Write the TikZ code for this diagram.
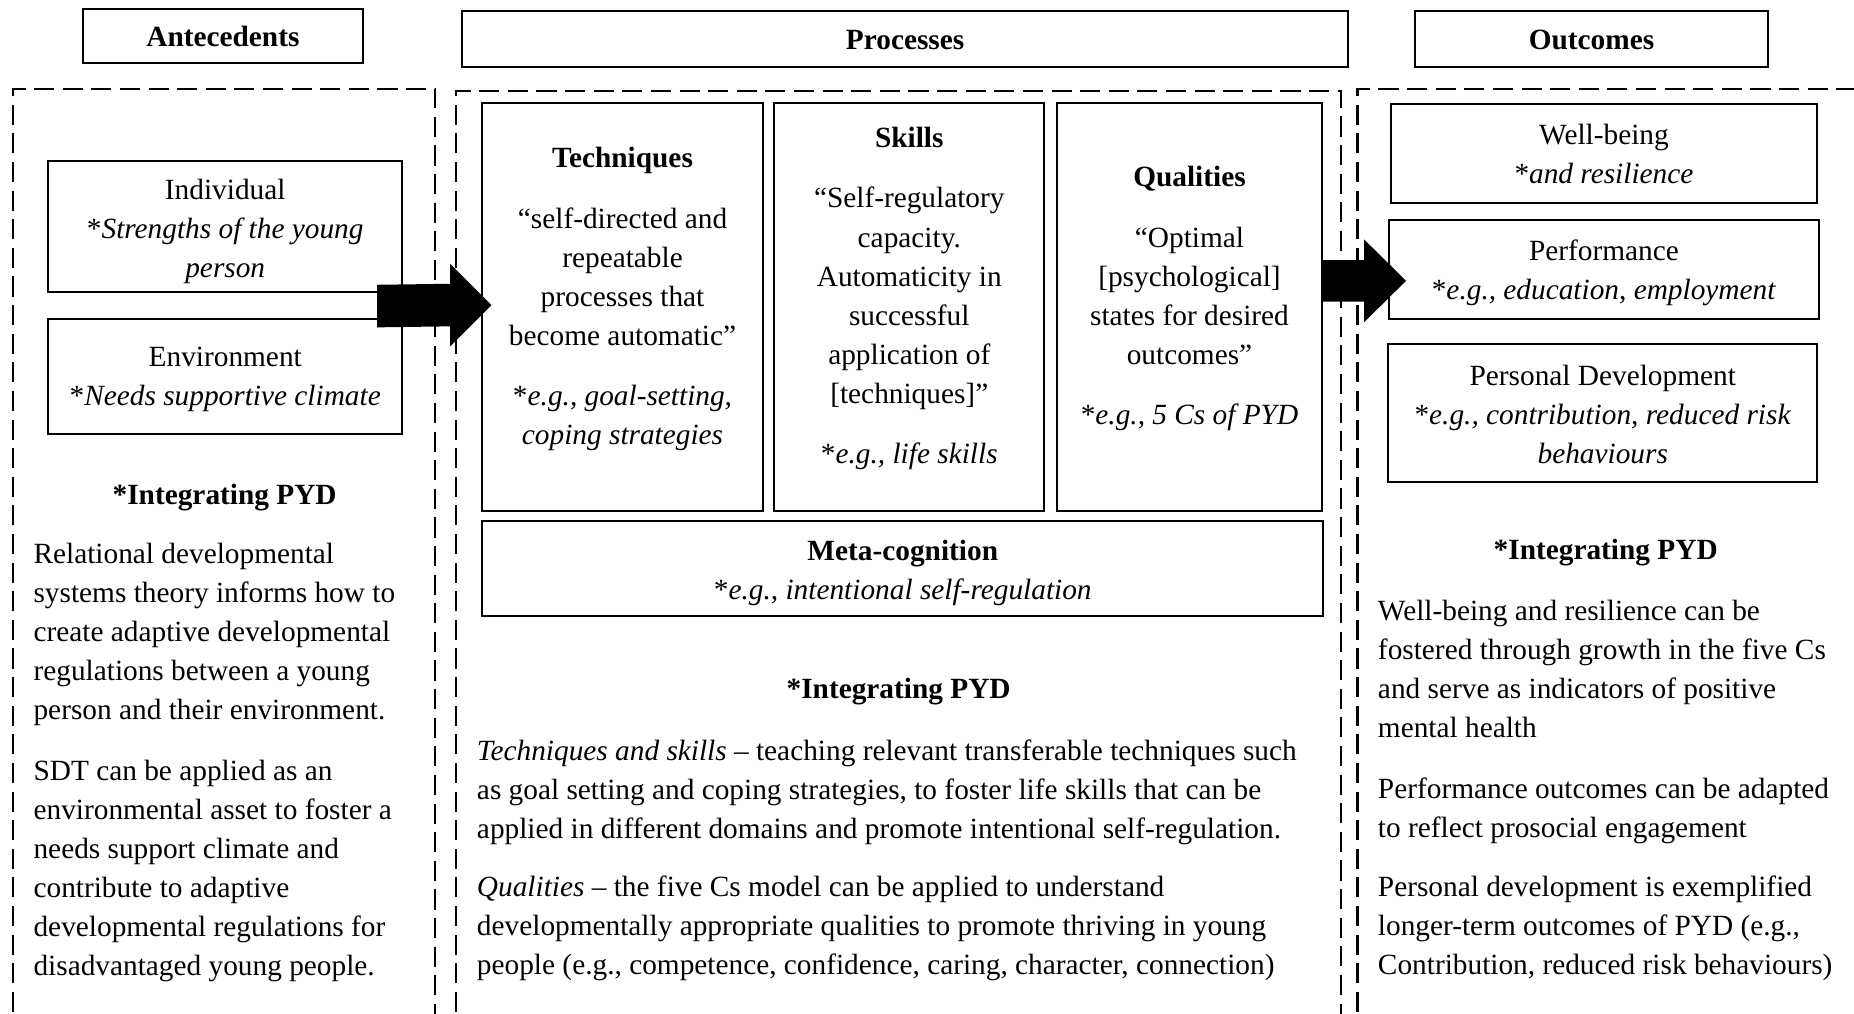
\documentclass[tikz,border=0pt]{standalone}
\usepackage{fontspec}
\setmainfont{Liberation Serif}
\usetikzlibrary{fit,calc}

\begin{document}
\begin{tikzpicture}[x=0.5pt,y=-0.5pt,
  frame/.style={draw=black,line width=0.85pt,inner sep=0pt},
  headtxt/.style={inner sep=0pt,anchor=base,font=\bfseries\fontsize{12.4}{16.5}\selectfont},
  zone/.style={draw=black,line width=0.95pt,dash pattern=on 8.5pt off 3.6pt},
  txt/.style={inner sep=0pt,anchor=north,font=\fontsize{12.4}{16.5}\selectfont},
  ctxt/.style={txt,align=center},
  ltxt/.style={txt,anchor=north west,align=left},
  blockarrow/.style={fill=black}]

% page area
\path[use as bounding box] (0,0) rectangle (1568,857);
\clip (0,0) rectangle (1568,857);

% ---------- column headers ----------
\node[frame,fit={(70,8) (307,53)}] (hAnte) {};
\node[headtxt] (hAnteT) at (188.5,39.5) {Antecedents};
\node[frame,fit={(391,9) (1140,57)}] (hProc) {};
\node[headtxt] (hProcT) at (765.5,41.5) {Processes};
\node[frame,fit={(1197,9) (1495,57)}] (hOut) {};
\node[headtxt] (hOutT) at (1346,41.5) {Outcomes};

% ---------- dashed column frames (open at the bottom) ----------
\draw[zone] (11,880) -- (11,75) -- (368,75) -- (368,880);
\draw[zone] (385.5,880) -- (385.5,77) -- (1134,77) -- (1134,880);
\draw[zone] (1148,880) -- (1148,75) -- (1600,75);

% ---------- antecedents ----------
\node[frame,fit={(41,136) (340,247)}] (indiv) {};
\node[ctxt] (indivT) at (190.5,145.4) {\strut Individual\\ *\textit{Strengths of the young}\\ \textit{person}};
\node[frame,fit={(41,270) (340,367)}] (envir) {};
\node[ctxt] (envirT) at (190.5,286.4) {\strut Environment\\ *\textit{Needs supportive climate}};

\node[ctxt,font=\bfseries\fontsize{12.4}{16.5}\selectfont] (pydA) at (190,402.9) {\strut *Integrating PYD};
\node[ltxt] (rdst) at (28,453.4) {\strut Relational developmental\\ systems theory informs how to\\ create adaptive developmental\\ regulations between a young\\ person and their environment.};
\node[ltxt] (sdt) at (28,636.4) {\strut SDT can be applied as an\\ environmental asset to foster a\\ needs support climate and\\ contribute to adaptive\\ developmental regulations for\\ disadvantaged young people.};

% ---------- processes ----------
\node[frame,fit={(408,87) (645,432)}] (tech) {};
\node[ctxt] (techT) at (526.5,118.4) {\strut\textbf{Techniques}\\[9pt] “self-directed and\\ repeatable\\ processes that\\ become automatic”\\[9pt] *\textit{e.g., goal-setting,}\\ \textit{coping strategies}};
\node[frame,fit={(655,87) (883,432)}] (skill) {};
\node[ctxt] (skillT) at (769,101.4) {\strut\textbf{Skills}\\[9pt] “Self-regulatory\\ capacity.\\ Automaticity in\\ successful\\ application of\\ {[}techniques{]}”\\[9pt] *\textit{e.g., life skills}};
\node[frame,fit={(894,87) (1118,432)}] (qual) {};
\node[ctxt] (qualT) at (1006,134.4) {\strut\textbf{Qualities}\\[9pt] “Optimal\\ {[}psychological{]}\\ states for desired\\ outcomes”\\[9pt] *\textit{e.g., 5 Cs of PYD}};
\node[frame,fit={(408,441) (1119,521)}] (meta) {};
\node[ctxt] (metaT) at (763.5,450.4) {\strut\textbf{Meta-cognition}\\ *\textit{e.g., intentional self-regulation}};

\node[ctxt,font=\bfseries\fontsize{12.4}{16.5}\selectfont] (pydP) at (760,566.9) {\strut *Integrating PYD};
\node[ltxt] (tands) at (403,619.4) {\strut\textit{Techniques and skills} – teaching relevant transferable techniques such\\ as goal setting and coping strategies, to foster life skills that can be\\ applied in different domains and promote intentional self-regulation.};
\node[ltxt] (quals) at (403,734.4) {\strut\textit{Qualities} – the five Cs model can be applied to understand\\ developmentally appropriate qualities to promote thriving in young\\ people (e.g., competence, confidence, caring, character, connection)};

% ---------- outcomes ----------
\node[frame,fit={(1176,88) (1537,172)}] (well) {};
\node[ctxt] (wellT) at (1356.5,98.4) {\strut Well-being\\ *\textit{and resilience}};
\node[frame,fit={(1175,186) (1538,270)}] (perf) {};
\node[ctxt] (perfT) at (1356.5,196.4) {\strut Performance\\ *\textit{e.g., education, employment}};
\node[frame,fit={(1174,291) (1537,408)}] (pdev) {};
\node[ctxt] (pdevT) at (1355.5,302.4) {\strut Personal Development\\ *\textit{e.g., contribution, reduced risk}\\ \textit{behaviours}};

\node[ctxt,font=\bfseries\fontsize{12.4}{16.5}\selectfont] (pydO) at (1358,449.9) {\strut *Integrating PYD};
\node[ltxt] (wbres) at (1165,501.4) {\strut Well-being and resilience can be\\ fostered through growth in the five Cs\\ and serve as indicators of positive\\ mental health};
\node[ltxt] (perfo) at (1165,651.4) {\strut Performance outcomes can be adapted\\ to reflect prosocial engagement};
\node[ltxt] (pdevo) at (1165,734.4) {\strut Personal development is exemplified\\ longer-term outcomes of PYD (e.g.,\\ Contribution, reduced risk behaviours)};

% ---------- block arrows between the columns ----------
\coordinate (a1tail) at ($(indiv.south east)+(-22,11)$);
\coordinate (a1tip) at ($(tech.west)+(8.5,-1.5)$);
\fill[blockarrow] ($(a1tail)+(0,-18)$) -- ($(a1tip)+(-35,-18)$) -- ($(a1tip)+(-35,-35)$) -- (a1tip)
  -- ($(a1tip)+(-35,35)$) -- ($(a1tip)+(-35,18)$) -- ($(a1tail)+(0,18)$) -- cycle;

\coordinate (a2tail) at ($(qual.east)+(0,-22)$);
\coordinate (a2tip) at ($(perf.west)+(15,9.5)$);
\fill[blockarrow] ($(a2tail)+(0,-17.5)$) -- ($(a2tip)+(-35.5,-17.5)$) -- ($(a2tip)+(-35.5,-35)$) -- (a2tip)
  -- ($(a2tip)+(-35.5,35)$) -- ($(a2tip)+(-35.5,17.5)$) -- ($(a2tail)+(0,17.5)$) -- cycle;
\end{tikzpicture}
\end{document}
